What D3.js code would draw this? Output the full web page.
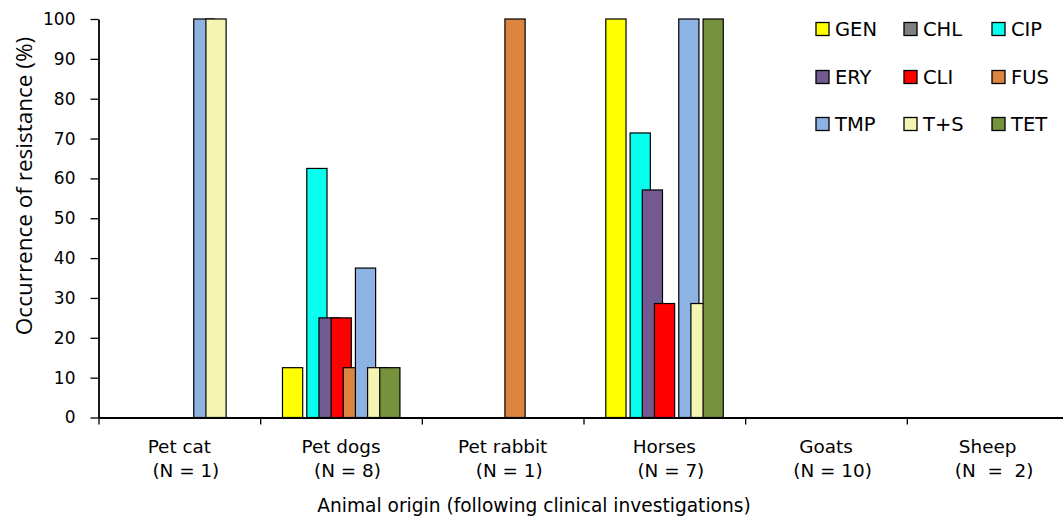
<!DOCTYPE html>
<html><head><meta charset="utf-8">
<script src="https://cdn.jsdelivr.net/npm/d3@7"></script>
<style>
html,body{margin:0;padding:0;background:#fff;}
svg{display:block;}
text{font-family:"DejaVu Sans",Verdana,sans-serif;fill:#000;}
</style></head>
<body>
<svg id="chart" width="1063" height="522"></svg>
<script>
// ---- data ----
const categories = ["Pet cat", "Pet dogs", "Pet rabbit", "Horses", "Goats", "Sheep"];
const categoryN = ["(N = 1)", "(N = 8)", "(N = 1)", "(N = 7)", "(N = 10)", "(N  =  2)"];
const seriesNames = ["GEN", "CHL", "CIP", "ERY", "CLI", "FUS", "TMP", "T+S", "TET"];
const seriesColors = ["#FFFF00", "#808080", "#08FFF0", "#72598F", "#FF0000", "#DC8541", "#8DB3E2", "#F6F4B2", "#76923C"];
const GEN = [0, 12.5, 0, 100, 0, 0];
const CHL = [0, 0, 0, 0, 0, 0];
const CIP = [0, 62.5, 0, 71.4, 0, 0];
const ERY = [0, 25, 0, 57.1, 0, 0];
const CLI = [0, 25, 0, 28.6, 0, 0];
const FUS = [0, 12.5, 100, 0, 0, 0];
const TMP = [100, 37.5, 0, 100, 0, 0];
const TS  = [100, 12.5, 0, 28.6, 0, 0];
const TET = [0, 12.5, 0, 100, 0, 0];
const seriesValues = [GEN, CHL, CIP, ERY, CLI, FUS, TMP, TS, TET];
const yTicks = [0, 10, 20, 30, 40, 50, 60, 70, 80, 90, 100];

// ---- layout ----
const svg = d3.select("#chart");
const plotLeft = 98.5, plotRight = 1068.5, plotTop = 19, plotBottom = 417.5;

const x = d3.scaleBand().domain(categories).range([plotLeft, plotRight]).paddingInner(0).paddingOuter(0);
const y = d3.scaleLinear().domain([0, 100]).range([plotBottom, plotTop]);
const bw = x.bandwidth();
const groupStart = bw * 0.138;
const stride = bw * 0.0752;
const barW = bw * 0.125;

// bars (series drawn in order so later series overlap earlier)
seriesNames.forEach((s, si) => {
  const g = svg.append("g");
  g.selectAll("rect").data(seriesValues[si].map((v, ci) => ({v, c: categories[ci]})))
    .join("rect")
    .filter(d => d.v > 0)
    .attr("x", d => x(d.c) + groupStart + si * stride)
    .attr("y", d => y(d.v))
    .attr("width", barW)
    .attr("height", d => y(0) - y(d.v))
    .attr("fill", seriesColors[si])
    .attr("stroke", "#000")
    .attr("stroke-width", 1.2);
});

// y axis
const yAxis = d3.axisLeft(y).tickValues(yTicks).tickSize(8).tickSizeOuter(0).tickPadding(15);
const gy = svg.append("g").attr("transform", `translate(${plotLeft},0)`).call(yAxis);
gy.selectAll("text").style("font-size", "17px").style("font-family", '"DejaVu Sans",Verdana,sans-serif').attr("fill", "#000");
gy.selectAll("line").attr("stroke", "#000").attr("stroke-width", 1.3);
gy.select(".domain").attr("stroke", "#000").attr("stroke-width", 1.8);

// x axis (ticks at category boundaries)
const xb = d3.scaleLinear().domain([0, categories.length]).range([plotLeft, plotRight]);
const xAxis = d3.axisBottom(xb).tickValues(d3.range(categories.length + 1)).tickFormat("").tickSize(7).tickSizeOuter(0);
const gx = svg.append("g").attr("transform", `translate(0,${plotBottom})`).call(xAxis);
gx.selectAll("line").attr("stroke", "#000").attr("stroke-width", 1.3);
gx.select(".domain").attr("stroke", "#000").attr("stroke-width", 1.8);

// category labels
const cl = svg.append("g").selectAll("g").data(categories).join("g")
  .attr("transform", d => `translate(${x(d) + bw / 2},0)`);
cl.append("text").attr("y", 453).attr("text-anchor", "middle").style("font-size", "18.4px").text(d => d);
cl.append("text").attr("x", 6.5).attr("y", 477).attr("text-anchor", "middle").style("font-size", "18.4px")
  .style("white-space", "pre").text((d, i) => categoryN[i]);

// axis titles
svg.append("text").attr("x", 534).attr("y", 512).attr("text-anchor", "middle").style("font-size", "18.6px")
  .text("Animal origin (following clinical investigations)");
svg.append("text").attr("transform", "translate(32,186) rotate(-90)").attr("text-anchor", "middle")
  .style("font-size", "22.5px").style("font-family", '"Open Sans","Noto Sans",sans-serif')
  .text("Occurrence of resistance (%)");

// legend 3x3
const legX = [816, 904, 992], legY = [29, 77, 124];
const lg = svg.append("g").selectAll("g").data(seriesNames).join("g")
  .attr("transform", (d, i) => `translate(${legX[i % 3]},${legY[Math.floor(i / 3)]})`);
lg.append("rect").attr("x", 0).attr("y", -6.5).attr("width", 13).attr("height", 13)
  .attr("fill", (d, i) => seriesColors[i]).attr("stroke", "#000").attr("stroke-width", 1.3);
lg.append("text").attr("x", 19).attr("y", 0).attr("dy", "0.36em").style("font-size", "19.5px").text(d => d);
</script>
</body></html>
